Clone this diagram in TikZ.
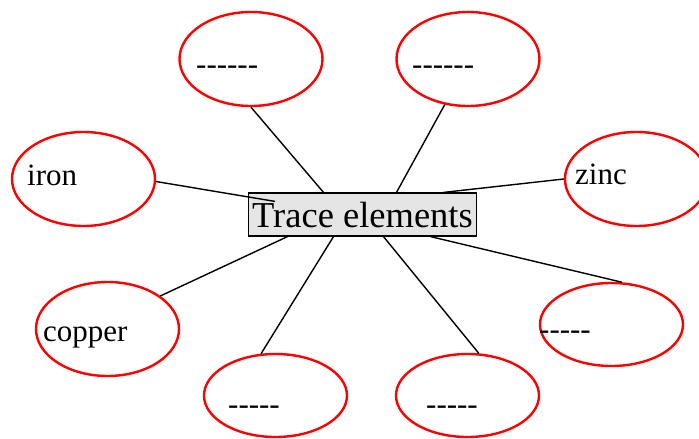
\documentclass[tikz,border=0pt]{standalone}
\usepackage{fontspec}
\setmainfont{Liberation Serif}
\usetikzlibrary{shapes.geometric}

\begin{document}
\begin{tikzpicture}[x=1pt, y=1pt,
        elem/.style={ellipse, draw=red, line width=2.4pt, inner sep=0pt,
            minimum width=143pt, minimum height=94pt},
        flat/.style={elem, minimum height=83pt},
        word/.style={anchor=base west, inner sep=0pt, font=\fontsize{31}{34}\selectfont},
        link/.style={line width=1.4pt}]
        \useasboundingbox (0,0) rectangle (699,-439);

        % Draw ellipses
        \node[elem] (tl) at (251,-59) {};
        \node[elem] (tr) at (468,-59) {};
        \node[elem] (iron) at (83.5,-179) {};
        \node[elem] (zinc) at (636.5,-179) {};
        \node[elem] (copper) at (107.5,-329) {};
        \node[flat] (right) at (611.5,-324.5) {};
        \node[flat] (bl) at (275.5,-395.5) {};
        \node[flat] (br) at (467.5,-395.5) {};

        % Texts
        \node[word] (tlt) at (196,-74) {-{}-{}-{}-{}-{}-};
        \node[word] (trt) at (412,-74) {-{}-{}-{}-{}-{}-};
        \node[word] (iront) at (27,-185) {iron};
        \node[word] (zinct) at (575,-184) {zinc};
        \node[word] (coppert) at (43,-341) {copper};
        \node[word] (rightt) at (539,-339) {-{}-{}-{}-{}-};
        \node[word] (blt) at (228,-414) {-{}-{}-{}-{}-};
        \node[word] (brt) at (426,-414) {-{}-{}-{}-{}-};

        % Centre box
        \node[draw, line width=1.2pt, fill=black!10, inner sep=0pt,
            minimum width=228pt, text height=34pt, text depth=9pt,
            font=\fontsize{36.5}{40}\selectfont] (trace) at (362.5,-214.5) {Trace elements};

        % Lines
        \draw[link] (tl.south) -- ([xshift=-39pt]trace.north);
        \draw[link] (tr.-117) -- ([xshift=34pt]trace.north);
        \draw[link] (iron.-2) -- ([shift={(27pt,-9pt)}]trace.north west);
        \draw[link] (zinc.west) -- ([xshift=81pt]trace.north);
        \draw[link] (copper.32) -- ([xshift=-75pt]trace.south);
        \draw[link] (bl.109) -- ([xshift=-29pt]trace.south);
        \draw[link] (br.75) -- ([xshift=21pt]trace.south);
        \draw[link] (right.76) -- ([xshift=68pt]trace.south);
    \end{tikzpicture}
\end{document}
